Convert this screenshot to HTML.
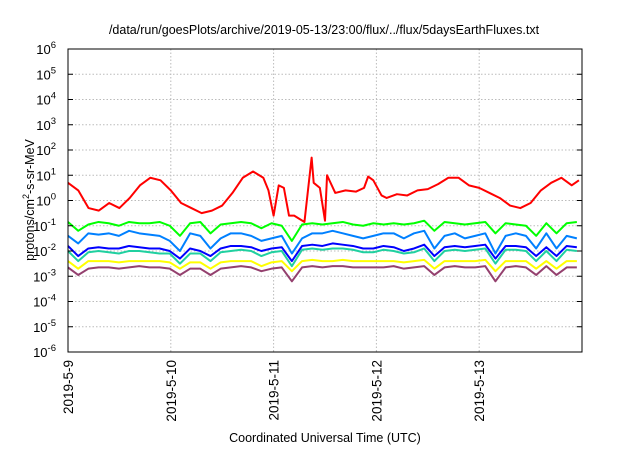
<!DOCTYPE html>
<html><head><meta charset="utf-8"><style>
body{margin:0;background:#fff;width:640px;height:448px;overflow:hidden}
svg{font-family:"Liberation Sans",sans-serif}
</style></head><body>
<svg id="chart" width="640" height="448" viewBox="0 0 640 448">
<text x="324" y="34" font-size="12.5" text-anchor="middle">/data/run/goesPlots/archive/2019-05-13/23:00/flux/../flux/5daysEarthFluxes.txt</text>
<text transform="translate(34,200) rotate(-90)" font-size="12.5" text-anchor="middle">protons/cm<tspan dy="-5" font-size="9">2</tspan><tspan dy="5">-s-sr-MeV</tspan></text>
<text x="325" y="442" font-size="12.5" text-anchor="middle">Coordinated Universal Time (UTC)</text>
<g id="grid"></g><g id="series"></g><g id="axes"></g>
</svg>
<script>
const xTickLabels=["2019-5-9","2019-5-10","2019-5-11","2019-5-12","2019-5-13"];
const yExponents=[-6,-5,-4,-3,-2,-1,0,1,2,3,4,5,6];
const redTimes=[0,0.1,0.2,0.3,0.4,0.5,0.6,0.7,0.8,0.9,1.0,1.1,1.2,1.3,1.4,1.5,1.6,1.7,1.8,1.9,1.95,2.0,2.05,2.1,2.15,2.2,2.3,2.37,2.39,2.45,2.5,2.52,2.6,2.7,2.8,2.88,2.92,2.97,3.05,3.1,3.2,3.3,3.4,3.5,3.6,3.7,3.8,3.9,4.0,4.1,4.2,4.3,4.4,4.5,4.6,4.7,4.8,4.9,4.97];
const redLog=[0.7,0.4,-0.3,-0.4,-0.1,-0.3,0.1,0.6,0.9,0.8,0.4,-0.1,-0.3,-0.5,-0.4,-0.2,0.3,0.9,1.15,0.9,0.4,-0.6,0.6,0.5,-0.6,-0.6,-0.85,1.7,0.7,0.5,-0.8,1.0,0.3,0.4,0.35,0.5,0.95,0.8,0.2,0.1,0.25,0.2,0.4,0.45,0.65,0.9,0.9,0.6,0.5,0.3,0.1,-0.2,-0.3,-0.1,0.4,0.7,0.9,0.6,0.8];
const greenLog=[-0.85,-1.2,-0.95,-0.85,-0.9,-1.0,-0.85,-0.9,-0.9,-0.85,-1.0,-1.4,-0.9,-0.85,-1.3,-0.95,-0.9,-0.85,-0.9,-1.1,-0.9,-1.0,-1.6,-0.95,-0.9,-0.95,-0.9,-0.85,-0.95,-1.0,-0.9,-0.95,-0.9,-0.95,-0.9,-0.8,-1.2,-0.85,-0.9,-0.95,-0.9,-0.85,-1.3,-0.9,-0.95,-1.0,-1.4,-0.9,-1.3,-0.9,-0.85];
const lightBlueLog=[-1.4,-1.7,-1.3,-1.35,-1.3,-1.4,-1.2,-1.3,-1.35,-1.4,-1.6,-2.0,-1.3,-1.4,-1.9,-1.5,-1.3,-1.3,-1.4,-1.6,-1.5,-1.4,-2.1,-1.5,-1.3,-1.3,-1.2,-1.3,-1.4,-1.5,-1.4,-1.3,-1.3,-1.5,-1.3,-1.2,-1.9,-1.4,-1.3,-1.5,-1.4,-1.3,-2.1,-1.4,-1.3,-1.4,-1.9,-1.3,-1.9,-1.4,-1.5];
const blueLog=[-1.8,-2.2,-1.9,-1.85,-1.9,-1.9,-1.8,-1.85,-1.9,-1.9,-2.0,-2.3,-1.9,-2.0,-2.2,-1.9,-1.8,-1.8,-1.85,-2.0,-1.9,-1.85,-2.4,-1.8,-1.75,-1.8,-1.7,-1.75,-1.8,-1.9,-1.9,-1.8,-1.85,-2.0,-1.9,-1.75,-2.2,-1.85,-1.8,-1.85,-1.8,-1.75,-2.3,-1.8,-1.8,-1.85,-2.2,-1.85,-2.2,-1.8,-1.85];
const tealLog=[-2.0,-2.4,-2.05,-2.0,-2.05,-2.1,-2.0,-2.0,-2.05,-2.1,-2.1,-2.5,-2.1,-2.1,-2.4,-2.05,-2.0,-1.95,-2.0,-2.2,-2.05,-2.0,-2.6,-1.95,-1.9,-1.95,-1.9,-1.9,-1.95,-2.05,-2.05,-1.95,-2.0,-2.1,-2.05,-1.9,-2.4,-2.0,-1.95,-2.0,-1.95,-1.9,-2.5,-1.95,-1.95,-2.0,-2.4,-2.0,-2.4,-1.95,-2.0];
const yellowLog=[-2.4,-2.7,-2.4,-2.4,-2.4,-2.45,-2.4,-2.4,-2.4,-2.4,-2.45,-2.7,-2.45,-2.45,-2.7,-2.45,-2.4,-2.4,-2.4,-2.6,-2.45,-2.4,-2.8,-2.4,-2.35,-2.4,-2.4,-2.35,-2.4,-2.4,-2.4,-2.4,-2.4,-2.45,-2.4,-2.35,-2.7,-2.4,-2.4,-2.4,-2.4,-2.35,-2.8,-2.4,-2.4,-2.4,-2.7,-2.4,-2.7,-2.4,-2.4];
const purpleLog=[-2.65,-2.95,-2.7,-2.65,-2.65,-2.7,-2.65,-2.6,-2.65,-2.65,-2.7,-2.95,-2.7,-2.7,-2.95,-2.7,-2.65,-2.6,-2.65,-2.8,-2.7,-2.65,-3.2,-2.65,-2.6,-2.65,-2.6,-2.6,-2.65,-2.65,-2.65,-2.65,-2.6,-2.7,-2.65,-2.6,-2.95,-2.65,-2.6,-2.65,-2.65,-2.6,-3.2,-2.65,-2.6,-2.65,-2.95,-2.6,-2.95,-2.65,-2.65];

const L=68,R=582,T=49,B=352;
const xs=d=>L+(R-L)*d/5;
const ys=e=>B-(B-T)*(e+6)/12;
const NS="http://www.w3.org/2000/svg";
function mk(tag,parent){const e=document.createElementNS(NS,tag);parent.appendChild(e);return e;}
const grid=document.getElementById('grid'),axes=document.getElementById('axes'),ser=document.getElementById('series');
yExponents.forEach(e=>{
  const y=ys(e);
  if(e>-6&&e<6){const g=mk('line',grid);
  
  
  g.setAttribute('x1',L);g.setAttribute('x2',R);g.setAttribute('y1',y);g.setAttribute('y2',y);g.setAttribute('stroke','#bbb');g.setAttribute('stroke-dasharray','1.5,2');}
  [[L,L+5],[R-5,R]].forEach(p=>{const t=mk('line',axes);
  
  
  t.setAttribute('x1',p[0]);t.setAttribute('x2',p[1]);t.setAttribute('y1',y);t.setAttribute('y2',y);t.setAttribute('stroke','#000');});
  const lb=mk('text',axes);
  
  
  lb.setAttribute('x',L-12);lb.setAttribute('y',y+5);lb.setAttribute('text-anchor','end');lb.setAttribute('font-size','13');
  lb.innerHTML='10<tspan dy="-6" font-size="9.5">'+e+'</tspan>';
});
xTickLabels.forEach((s,i)=>{
  const x=xs(i);
  if(i>0){const g=mk('line',grid);
  
  
  g.setAttribute('x1',x);g.setAttribute('x2',x);g.setAttribute('y1',T);g.setAttribute('y2',B);g.setAttribute('stroke','#bbb');g.setAttribute('stroke-dasharray','1.5,2');}
  const lb=mk('text',axes);
  
  
  lb.setAttribute('transform','translate('+(x+5)+','+(B+8)+') rotate(-90)');lb.setAttribute('text-anchor','end');lb.setAttribute('font-size','13.5');
  lb.textContent=s;
});
const fr=mk('rect',axes);


fr.setAttribute('x',L);fr.setAttribute('y',T);fr.setAttribute('width',R-L);fr.setAttribute('height',B-T);fr.setAttribute('fill','none');fr.setAttribute('stroke','#000');
function line(times,vals,color,name){
  const p=mk('polyline',ser);
  
  
  p.setAttribute('points',vals.map((v,i)=>xs(times[i])+','+ys(v)).join(' '));
  p.setAttribute('fill','none');p.setAttribute('stroke',color);p.setAttribute('stroke-width','2');p.setAttribute('stroke-linejoin','round');
}
const uniT=purpleLog.map((_,i)=>i*0.099);
line(uniT,purpleLog,'#94406e','series-purple');
line(uniT,yellowLog,'#ffff00','series-yellow');
line(uniT,tealLog,'#20d0a0','series-teal');
line(uniT,blueLog,'#0000ff','series-blue');
line(uniT,lightBlueLog,'#0080ff','series-light-blue');
line(uniT,greenLog,'#00ff00','series-green');
line(redTimes,redLog,'#ff0000','series-red');
</script>
</body></html>
